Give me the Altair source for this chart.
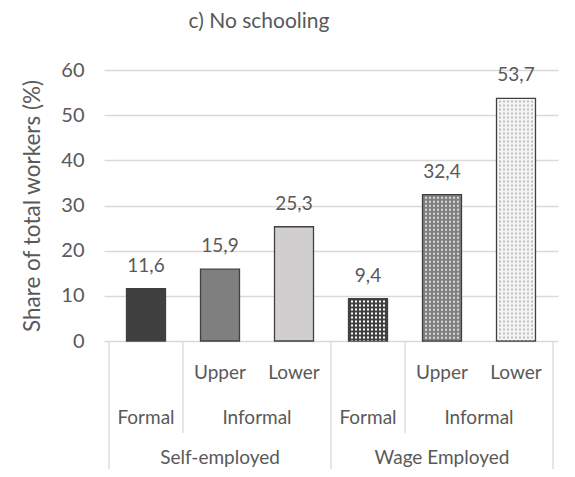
import altair as alt
import pandas as pd

# ---- data ----
groups = ["Self-employed", "Self-employed", "Self-employed",
          "Wage Employed", "Wage Employed", "Wage Employed"]
sectors = ["Formal", "Informal", "Informal", "Formal", "Informal", "Informal"]
levels = ["", "Upper", "Lower", "", "Upper", "Lower"]
values = [11.6, 15.9, 25.3, 9.4, 32.4, 53.7]

# ---- styling ----
fills = ["#404040", "#7f7f7f", "#d0cece", "#404040", "#808080", "#f4f4f4"]
dots = [None, None, None, "#ffffff", "#d9d9d9", "#bfbfbf"]
TXT = "#595959"
GRID = "#d9d9d9"
FONT = "Lato"

W, H = 454, 271

df = pd.DataFrame({
    "pos": list(range(len(values))),
    "group": groups,
    "sector": sectors,
    "level": levels,
    "value": values,
    "fill": fills,
    "dot": dots,
})
df["label"] = df["value"].map(lambda v: f"{v:.1f}".replace(".", ","))

xscale = alt.Scale(domain=[-0.5, len(values) - 0.5], nice=False, zero=False)
X = alt.X("pos:Q", scale=xscale, axis=None)
yscale = alt.Scale(domain=[0, 60], nice=False)

base = alt.Chart(df)

bars = base.mark_bar(size=39, stroke="#404040", strokeWidth=1.3).encode(
    x=X,
    y=alt.Y("value:Q", scale=yscale,
            axis=alt.Axis(values=[0, 10, 20, 30, 40, 50, 60], grid=True,
                          gridColor=GRID, gridWidth=1.3, domain=False, ticks=False,
                          labelPadding=20, labelFontSize=20, labelColor=TXT,
                          labelFont=FONT,
                          title="Share of total workers (%)", titleFont=FONT,
                          titleFontSize=22.5, titleFontWeight="normal",
                          titleColor=TXT, titleX=-72, titleY=H / 2,
                          titleAngle=-90, titleAlign="center",
                          titleBaseline="middle")),
    fill=alt.Fill("fill:N", scale=None),
)

patterned = df[df["dot"].notna()]
pattern_layers = []
for off in [-16, -12, -8, -4, 0, 4, 8, 12, 16]:
    pattern_layers.append(
        alt.Chart(patterned).mark_rule(xOffset=off, strokeWidth=2,
                                       strokeDash=[2, 2], yOffset=2).encode(
            x=X,
            y=alt.Y("value:Q", scale=yscale),
            y2=alt.Y2(datum=0),
            stroke=alt.Stroke("dot:N", scale=None),
        )
    )

labels = base.mark_text(dy=-23, baseline="middle", font=FONT, fontSize=19,
                        color=TXT).encode(
    x=X, y=alt.Y("value:Q", scale=yscale), text="label:N")

# category table below the plot
lvl1 = df[df["level"] != ""]
lvl2 = df.groupby(["group", "sector"], as_index=False)["pos"].mean()
lvl3 = df.groupby("group", as_index=False)["pos"].mean()

t1 = alt.Chart(lvl1).mark_text(font=FONT, fontSize=19, color=TXT,
                               baseline="middle").encode(
    x=X, y=alt.value(H + 32), text="level:N")
t2 = alt.Chart(lvl2).mark_text(font=FONT, fontSize=19, color=TXT,
                               baseline="middle").encode(
    x=X, y=alt.value(H + 77), text="sector:N")
t3 = alt.Chart(lvl3).mark_text(font=FONT, fontSize=19, color=TXT,
                               baseline="middle").encode(
    x=X, y=alt.value(H + 117), text="group:N")

# separators
sec_bounds = df.groupby(["group", "sector"])["pos"].min().reset_index()
sec_b = sec_bounds[~sec_bounds["pos"].isin(df.groupby("group")["pos"].min())]
sec_b = pd.DataFrame({"b": sec_b["pos"] - 0.5})
grp_b = pd.DataFrame({"b": list(df.groupby("group")["pos"].min() - 0.5) +
                      [len(values) - 0.5]})

XB = alt.X("b:Q", scale=xscale, axis=None)
r_short = alt.Chart(sec_b).mark_rule(color=GRID, strokeWidth=1.3).encode(
    x=XB, y=alt.value(H), y2=alt.value(H + 92))
r_long = alt.Chart(grp_b).mark_rule(color=GRID, strokeWidth=1.3).encode(
    x=XB, y=alt.value(H), y2=alt.value(H + 140))

chart = alt.layer(bars, *pattern_layers, labels, t1, t2, t3, r_short, r_long).properties(
    width=W, height=H,
    title=alt.TitleParams("c) No schooling", font=FONT, fontSize=21,
                          fontWeight="normal", color=TXT, anchor="middle",
                          offset=28, dx=-72),
    autosize=alt.AutoSizeParams(type="none"),
    padding={"left": 96, "top": 62, "right": 9, "bottom": 128},
).configure_view(stroke=None)

chart.save("out.html", embed_options={"renderer": "svg", "actions": False})
